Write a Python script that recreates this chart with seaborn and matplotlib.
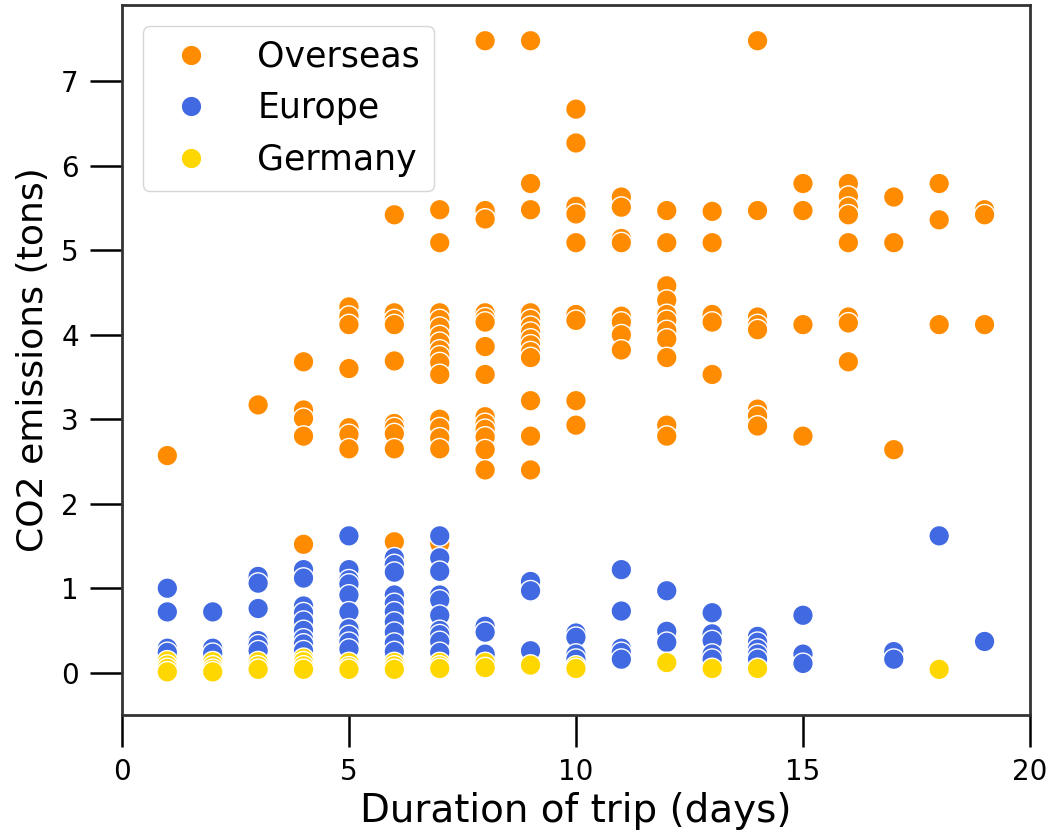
import pandas as pd
import matplotlib
matplotlib.use("Agg")
import matplotlib.pyplot as plt
import seaborn as sns

# trip duration (days) and CO2 (tons) per trip, grouped by day
overseas_days = [1, 3, 4, 5, 6, 7, 8, 9, 10, 11, 12, 13, 14, 15, 16, 17, 18, 19]
overseas_co2 = [
    [2.57],
    [3.17],
    [3.68, 3.11, 3.01, 2.80, 1.52],
    [4.33, 4.22, 4.12, 3.60, 2.90, 2.82, 2.65],
    [5.42, 4.26, 4.18, 4.12, 3.69, 2.95, 2.90, 2.83, 2.65, 1.55],
    [5.48, 5.09, 4.26, 4.18, 4.09, 3.99, 3.91, 3.82, 3.75, 3.67, 3.53, 3.00, 2.90, 2.78, 2.65, 1.53],
    [7.48, 5.47, 5.37, 4.26, 4.20, 4.15, 3.86, 3.53, 3.03, 2.95, 2.88, 2.79, 2.64, 2.40],
    [7.48, 5.79, 5.48, 4.26, 4.18, 4.10, 4.03, 3.95, 3.88, 3.80, 3.73, 3.22, 2.80, 2.40],
    [6.67, 6.27, 5.52, 5.43, 5.09, 4.24, 4.17, 3.22, 2.93],
    [5.63, 5.51, 5.14, 5.09, 4.22, 4.15, 4.00, 3.82],
    [5.47, 5.09, 4.58, 4.41, 4.24, 4.17, 4.05, 3.95, 3.73, 2.93, 2.80],
    [5.46, 5.09, 4.24, 4.15, 3.53],
    [7.48, 5.47, 4.21, 4.12, 4.06, 3.12, 3.04, 2.92],
    [5.79, 5.47, 4.12, 2.80],
    [5.79, 5.64, 5.51, 5.42, 5.09, 4.21, 4.14, 3.68],
    [5.63, 5.09, 2.64],
    [5.79, 5.36, 4.12],
    [5.48, 5.42, 4.12],
]

europe_days = [1, 2, 3, 4, 5, 6, 7, 8, 9, 10, 11, 12, 13, 14, 15, 17, 18, 19]
europe_co2 = [
    [1.00, 0.72, 0.29, 0.24],
    [0.72, 0.29, 0.23],
    [1.14, 1.06, 0.76, 0.38, 0.33, 0.26],
    [1.22, 1.12, 0.79, 0.71, 0.61, 0.50, 0.40, 0.34, 0.26],
    [1.62, 1.22, 1.10, 1.05, 0.92, 0.72, 0.52, 0.44, 0.36, 0.28],
    [1.36, 1.28, 1.19, 0.92, 0.82, 0.72, 0.60, 0.48, 0.35, 0.25],
    [1.62, 1.36, 1.20, 0.92, 0.86, 0.68, 0.50, 0.45, 0.37, 0.24],
    [0.55, 0.48, 0.22],
    [1.08, 0.97, 0.26],
    [0.47, 0.42, 0.22, 0.16],
    [1.22, 0.73, 0.29, 0.24, 0.16],
    [0.97, 0.49, 0.36],
    [0.71, 0.46, 0.38, 0.22, 0.16],
    [0.43, 0.36, 0.28, 0.22, 0.16],
    [0.68, 0.22, 0.11],
    [0.25, 0.16],
    [1.62],
    [0.37],
]

germany_days = [1, 2, 3, 4, 5, 6, 7, 8, 9, 10, 12, 13, 14, 18]
germany_co2 = [
    [0.14, 0.09, 0.05, 0.01],
    [0.13, 0.08, 0.04, 0.01],
    [0.13, 0.08, 0.04],
    [0.17, 0.13, 0.08, 0.04],
    [0.12, 0.07, 0.04],
    [0.12, 0.08, 0.04],
    [0.12, 0.08, 0.05],
    [0.12, 0.06],
    [0.09],
    [0.08, 0.05],
    [0.12],
    [0.05],
    [0.05],
    [0.04],
]

regions = ["Overseas", "Europe", "Germany"]
colors = {"Overseas": "darkorange", "Europe": "royalblue", "Germany": "gold"}

rows = []
for region, days, co2 in [("Overseas", overseas_days, overseas_co2),
                          ("Europe", europe_days, europe_co2),
                          ("Germany", germany_days, germany_co2)]:
    for d, vals in zip(days, co2):
        for v in vals:
            rows.append({"duration": d, "co2": v, "region": region})
df = pd.DataFrame(rows)

sns.set_style("ticks")
plt.rcParams["font.family"] = ["DejaVu Sans"]
plt.rcParams["text.color"] = "black"
plt.rcParams["axes.labelcolor"] = "black"
plt.rcParams["xtick.color"] = "black"
plt.rcParams["ytick.color"] = "black"

fig = plt.figure(figsize=(10.51, 8.33), dpi=100)
ax = fig.add_axes([0.116, 0.1417, 0.864, 0.852])

sns.scatterplot(data=df, x="duration", y="co2", hue="region", hue_order=regions,
                palette=colors, s=220, edgecolor="white", linewidth=1, ax=ax)

ax.set_xlim(0, 20)
ax.set_ylim(-0.5, 7.9)
ax.set_xticks([0, 5, 10, 15, 20])
ax.set_yticks([0, 1, 2, 3, 4, 5, 6, 7])
ax.set_xlabel("Duration of trip (days)", fontsize=28, labelpad=4)
ax.set_ylabel("CO2 emissions (tons)", fontsize=26, labelpad=8)
ax.tick_params(axis="both", labelsize=20, length=23, width=1.8, pad=8)
for sp in ax.spines.values():
    sp.set_linewidth(2)
    sp.set_color("#333333")

leg = ax.legend(loc="upper left", fontsize=25, markerscale=1.0, handletextpad=0.9,
                labelspacing=0.5, borderaxespad=0.6, frameon=True)
leg.get_frame().set_edgecolor("#cccccc")

fig.savefig("out.png", dpi=100)
